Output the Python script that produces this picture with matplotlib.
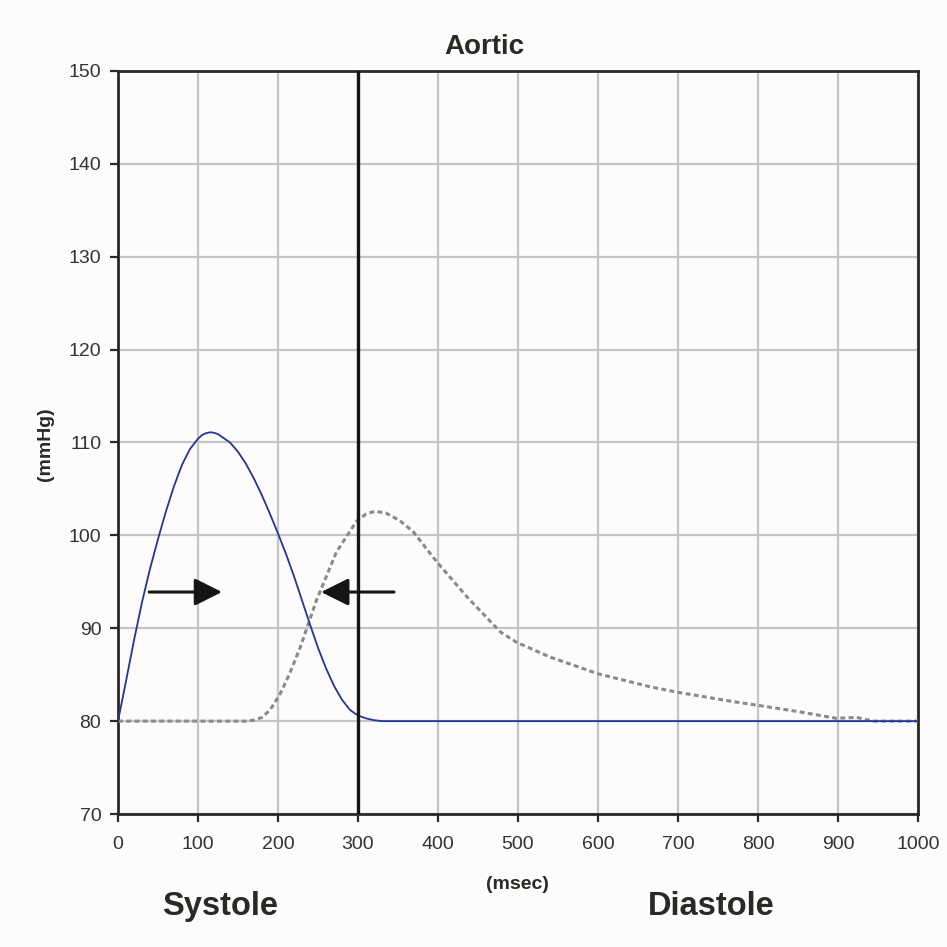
import matplotlib
matplotlib.use("Agg")
import matplotlib.pyplot as plt

plt.rcParams["font.family"] = ["Liberation Sans", "DejaVu Sans"]

# ── data ─────────────────────────────────────────────────────────────────────
TITLE = "Aortic"
X_LABEL = "(msec)"
Y_LABEL = "(mmHg)"
PHASES = ["Systole", "Diastole"]

x_ticks = [0, 100, 200, 300, 400, 500, 600, 700, 800, 900, 1000]
y_ticks = [70, 80, 90, 100, 110, 120, 130, 140, 150]

# solid blue curve (systolic ejection)
blue_t = [0, 10, 20, 30, 40, 50, 60, 70, 80, 90, 100, 105, 110, 115, 120, 125,
          130, 140, 150, 160, 170, 180, 190, 200, 210, 220, 230, 240, 250, 260,
          270, 280, 290, 300, 310, 320, 330, 340, 1000]
blue_p = [80, 84.3, 88.7, 92.8, 96.4, 99.6, 102.6, 105.3, 107.6, 109.3, 110.4,
          110.8, 111.0, 111.1, 111.05, 110.9, 110.6, 110.0, 109.0, 107.7, 106.1,
          104.3, 102.3, 100.2, 98.0, 95.6, 93.0, 90.4, 87.9, 85.7, 83.8, 82.3,
          81.2, 80.6, 80.3, 80.1, 80.0, 80.0, 80.0]

# dotted grey curve (shifted wave)
grey_t = [0, 160, 170, 180, 190, 202, 215, 228, 248, 273, 298, 310, 321, 335,
          352, 369, 398, 436, 478, 498, 540, 600, 665, 700, 769, 800, 852, 898,
          923, 944, 1000]
grey_p = [80, 80, 80.1, 80.4, 81.2, 82.8, 85.2, 88.0, 93.0, 98.2, 101.5, 102.3,
          102.6, 102.4, 101.6, 100.4, 97.2, 93.4, 89.6, 88.5, 86.9, 85.1, 83.7,
          83.1, 82.1, 81.7, 81.0, 80.3, 80.4, 80.0, 80.0]

divider_t = 300
arrow_p = 93.9
arrow_right = (39, 130)   # tail, head
arrow_left = (345, 254)   # tail, head

INK = "#2a2925"

fig = plt.figure(figsize=(9.47, 9.47), dpi=100, facecolor="#fdfbfb")
ax = fig.add_axes([118 / 947, 133 / 947, 800 / 947, 743 / 947])
ax.set_facecolor("#fdfbfb")

ax.set_xlim(x_ticks[0], x_ticks[-1])
ax.set_ylim(y_ticks[0], y_ticks[-1])
ax.set_xticks(x_ticks)
ax.set_yticks(y_ticks)
ax.grid(True, color="#c3c6c5", linewidth=1.6)
ax.set_axisbelow(True)
for sp in ax.spines.values():
    sp.set_color(INK)
    sp.set_linewidth(2.0)
ax.tick_params(axis="both", direction="out", length=6, width=1.6, color=INK,
               labelsize=14, labelcolor="#333333")
ax.tick_params(axis="x", pad=10)
ax.tick_params(axis="y", pad=6)

ax.plot(grey_t, grey_p, color="#8a8a8a", linewidth=2.2, linestyle=(0, (1.6, 1.1)),
        zorder=3)
ax.plot(blue_t, blue_p, color="#22359a", linewidth=1.3, zorder=4)
ax.axvline(divider_t, color="#151515", linewidth=2.4, zorder=5)

for tail, head in (arrow_right, arrow_left):
    ax.annotate("", xy=(head, arrow_p), xytext=(tail, arrow_p),
                arrowprops=dict(arrowstyle="-|>", color="#151515", lw=2.2,
                                mutation_scale=42, shrinkA=0, shrinkB=0),
                zorder=6)

fig.text(484 / 947, 1 - 47 / 947, TITLE, ha="center", va="center",
         fontsize=20, fontweight="bold", color=INK)
fig.text(45 / 947, 1 - 444 / 947, Y_LABEL, ha="center", va="center",
         rotation=90, fontsize=14, fontweight="bold", color=INK)
fig.text(517 / 947, 1 - 884 / 947, X_LABEL, ha="center", va="center",
         fontsize=14, fontweight="bold", color=INK)
fig.text(220 / 947, 1 - 906 / 947, PHASES[0], ha="center", va="center",
         fontsize=23.5, fontweight="bold", color=INK)
fig.text(711 / 947, 1 - 906 / 947, PHASES[1], ha="center", va="center",
         fontsize=23.5, fontweight="bold", color=INK)

fig.savefig("out.png", dpi=100, facecolor=fig.get_facecolor())
